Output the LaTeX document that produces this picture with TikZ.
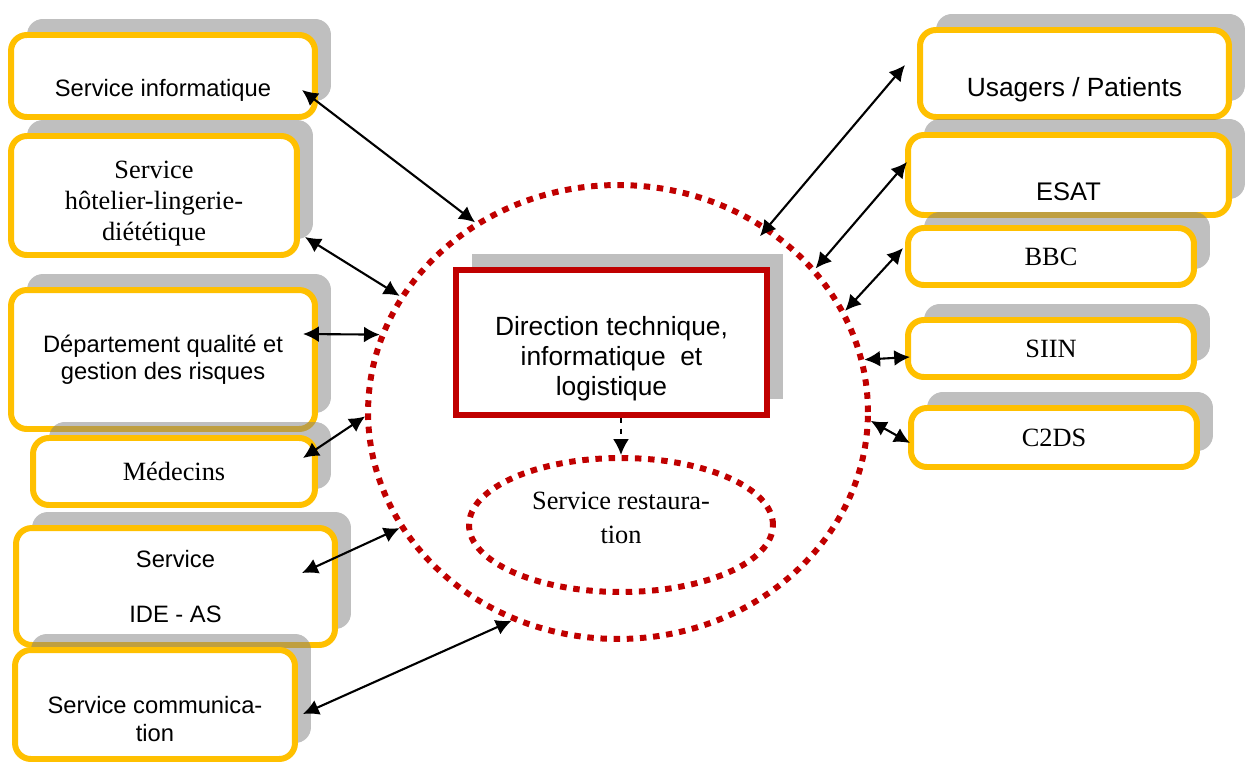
\documentclass[tikz,border=0pt]{standalone}
\usepackage{fontspec}
\setmainfont{Liberation Serif}
\setsansfont{Liberation Sans}
\usetikzlibrary{shapes.geometric,arrows.meta,shadows}

\definecolor{orangeboite}{HTML}{FFC000}
\definecolor{rougedir}{HTML}{C00000}

\tikzset{
	ombre/.style={general shadow={fill=black!50,opacity=0.5,shadow xshift=0.32cm,shadow yshift=0.32cm}},
	boite/.style={draw=orangeboite,line width=3.4pt,rounded corners=9pt,fill=white,inner sep=0pt,align=center,ombre},
	dirboite/.style={draw=rougedir,line width=3.4pt,fill=white,inner sep=0pt,align=center,ombre},
	pointille/.style={ellipse,draw=rougedir,line width=3.4pt,dash pattern=on 3.7pt off 3.8pt,inner sep=0pt,align=center},
	sans/.style={font=\sffamily\fontsize{13.5}{15.5}\selectfont},
	sansg/.style={font=\sffamily\fontsize{15}{17.3}\selectfont},
	serif/.style={font=\rmfamily\fontsize{15}{17.6}\selectfont},
	lien/.style={>={Latex[length=9pt,width=9pt]},<->,line width=1.2pt},
}

\begin{document}
\begin{tikzpicture}[x=0.02cm,y=-0.02cm]
	\useasboundingbox (0,0) rectangle (1248,764);
	\node[pointille,minimum width=10cm,minimum height=9.08cm] (cercle) at (618,412) {};
	\node[dirboite,sansg,minimum width=6.22cm,minimum height=2.9cm] (direction) at (611.5,342.5) {\strut\\Direction technique,\\informatique\ \ et\\logistique};
	\node[pointille,serif,minimum width=6.08cm,minimum height=2.68cm] (restau) at (621,525) {Service restaura-\\[1.5pt]tion\rule[-0.55em]{0pt}{0pt}};
	\draw[dashed,line width=1.2pt,-{Latex[length=9pt,width=9pt]}] (direction.south -| restau.north) -- (restau.north);

	\node[boite,sans,minimum width=6.08cm,minimum height=1.64cm] (info) at (163,76) {\strut\\Service informatique};
	\node[boite,serif,minimum width=5.72cm,minimum height=2.38cm] (hotel) at (154,195.5) {\rule{0pt}{1.3em}Service\\hôtelier-lingerie-\\diététique};
	\node[boite,sans,minimum width=6.08cm,minimum height=2.78cm] (qualite) at (163,359.5) {Département qualité et\\gestion des risques};
	\node[boite,serif,minimum width=5.64cm,minimum height=1.34cm] (medecins) at (174,471.5) {Médecins};
	\node[boite,sans,minimum width=6.38cm,minimum height=2.34cm] (ide) at (175.5,586.5) {Service\\\mbox{}\\IDE - AS};
	\node[boite,sans,minimum width=5.6cm,minimum height=2.18cm] (comm) at (155,704.5) {\strut\\Service communica-\\tion};

	\node[boite,sansg,minimum width=6.18cm,minimum height=1.74cm] (usagers) at (1074.5,73.5) {\strut\\Usagers / Patients};
	\node[boite,font=\sffamily\fontsize{14.5}{17}\selectfont,minimum width=6.42cm,minimum height=1.6cm] (esat) at (1068.5,175) {\strut\\ESAT};
	\node[boite,serif,minimum width=5.72cm,minimum height=1.14cm] (bbc) at (1051,256.5) {BBC};
	\node[boite,serif,minimum width=5.72cm,minimum height=1.14cm] (siin) at (1051,348.5) {SIIN};
	\node[boite,serif,minimum width=5.72cm,minimum height=1.18cm] (c2ds) at (1054,437.5) {C2DS};

	\coordinate (pInfo) at (302,90);
	\coordinate (pHotel) at (305,237);
	\coordinate (pQualite) at (303,334);
	\coordinate (pMedecins) at (303,458);
	\coordinate (pIde) at (302,573);
	\coordinate (pComm) at (303,714);
	\coordinate (pUsagers) at (905,65);
	\coordinate (pEsat) at (907,162);
	\coordinate (pBbc) at (903,248);
	\coordinate (pSiin) at (910,357);
	\coordinate (pCdeux) at (910,443);

	\draw[lien] (pInfo) -- (cercle.127);
	\draw[lien] (pHotel) -- (cercle.152);
	\draw[lien] (pQualite) -- (cercle.162);
	\draw[lien] (pMedecins) -- (cercle.181.4);
	\draw[lien] (pIde) -- (cercle.208);
	\draw[lien] (pComm) -- (cercle.243);
	\draw[lien,shorten >=-7pt] (pUsagers) -- (cercle.51);
	\draw[lien] (pEsat) -- (cercle.36);
	\draw[lien] (pBbc) -- (cercle.24);
	\draw[lien] (pSiin) -- (cercle.12.6);
	\draw[lien] (pCdeux) -- (cercle.-2.3);
\end{tikzpicture}
\end{document}
